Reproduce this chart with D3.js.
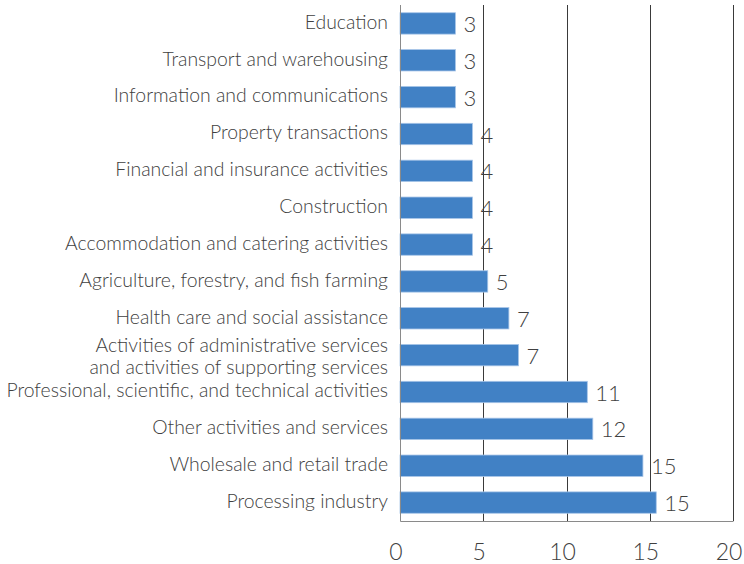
<html>
<head>
  <script src="https://cdn.jsdelivr.net/npm/d3@7/dist/d3.min.js"></script>
  <meta charset="UTF-8">
  <style>
  body {
    margin: 0;
    background: #fff;
    font-family: Lato, sans-serif;
  }
  </style>
</head>
<body>
<div id="chart"></div>
<script>

// categories listed top to bottom, as in the picture
const categories = [
  'Education',
  'Transport and warehousing',
  'Information and communications',
  'Property transactions',
  'Financial and insurance activities',
  'Construction',
  'Accommodation and catering activities',
  'Agriculture, forestry, and fish farming',
  'Health care and social assistance',
  'Activities of administrative services\nand activities of supporting services',
  'Professional, scientific, and technical activities',
  'Other activities and services',
  'Wholesale and retail trade',
  'Processing industry'
];
const values = [3.33, 3.33, 3.33, 4.35, 4.35, 4.35, 4.35, 5.27, 6.54, 7.12, 11.25, 11.58, 14.59, 15.39];
const xTicks = [0, 5, 10, 15, 20];

const width = 744, height = 564;
const margin = {top: 5, right: 11, bottom: 43, left: 400};

const svg = d3.select('#chart').append('svg')
  .attr('width', width)
  .attr('height', height);

const x = d3.scaleLinear()
  .domain([0, 20])
  .range([margin.left, width - margin.right]);

const y = d3.scaleBand()
  .domain(categories)
  .range([margin.top, height - margin.bottom])
  .paddingInner(0.42)
  .paddingOuter(0.21);

// vertical gridlines
svg.append('g')
  .selectAll('line')
  .data(xTicks.filter(d => d > 0))
  .join('line')
    .attr('x1', d => Math.round(x(d)) + 0.5)
    .attr('x2', d => Math.round(x(d)) + 0.5)
    .attr('y1', margin.top)
    .attr('y2', height - margin.bottom)
    .attr('stroke', '#3a3a3a')
    .attr('stroke-width', 1);

// bars
svg.append('g')
  .selectAll('rect')
  .data(values)
  .join('rect')
    .attr('x', x(0))
    .attr('y', (d, i) => y(categories[i]))
    .attr('width', d => x(d) - x(0))
    .attr('height', y.bandwidth())
    .attr('fill', '#4181c5')
    .attr('stroke', '#a7c5e8')
    .attr('stroke-width', 0.8);

// value labels
svg.append('g')
  .selectAll('text')
  .data(values)
  .join('text')
    .attr('x', d => x(d) + 8)
    .attr('y', (d, i) => y(categories[i]) + y.bandwidth() / 2)
    .attr('dominant-baseline', 'central')
    .style('font-size', '22px')
    .style('font-weight', 300)
    .attr('fill', '#404040')
    .text(d => Math.round(d));

// axis lines (left and bottom)
const x0 = Math.round(x(0)) + 0.5;
const yb = Math.round(height - margin.bottom) + 0.5;
svg.append('line')
  .attr('x1', x0).attr('x2', x0)
  .attr('y1', margin.top).attr('y2', yb)
  .attr('stroke', '#8a8a8a');
svg.append('line')
  .attr('x1', x0).attr('x2', Math.round(x(20)) + 0.5)
  .attr('y1', yb).attr('y2', yb)
  .attr('stroke', '#8a8a8a');

// x tick labels
svg.append('g')
  .selectAll('text')
  .data(xTicks)
  .join('text')
    .attr('x', d => x(d) - 4)
    .attr('y', height - 4)
    .attr('text-anchor', 'middle')
    .style('font-size', '23px')
    .style('font-weight', 300)
    .attr('fill', '#404040')
    .text(d => d);

// category labels
const labels = svg.append('g')
  .selectAll('text')
  .data(categories)
  .join('text')
    .attr('x', margin.left - 12)
    .attr('y', d => y(d) + y.bandwidth() / 2 - 1.5)
    .attr('text-anchor', 'end')
    .style('font-size', '19.4px')
    .style('font-weight', 300)
    .attr('fill', '#404040');

labels.each(function(d) {
  const lines = d.split('\n');
  const t = d3.select(this);
  lines.forEach((ln, j) => {
    t.append('tspan')
      .attr('x', margin.left - 12)
      .attr('dy', j === 0 ? (lines.length > 1 ? '-0.07em' : '0.35em') : '1.1em')
      .text(ln);
  });
});

</script>
</body>
</html>
